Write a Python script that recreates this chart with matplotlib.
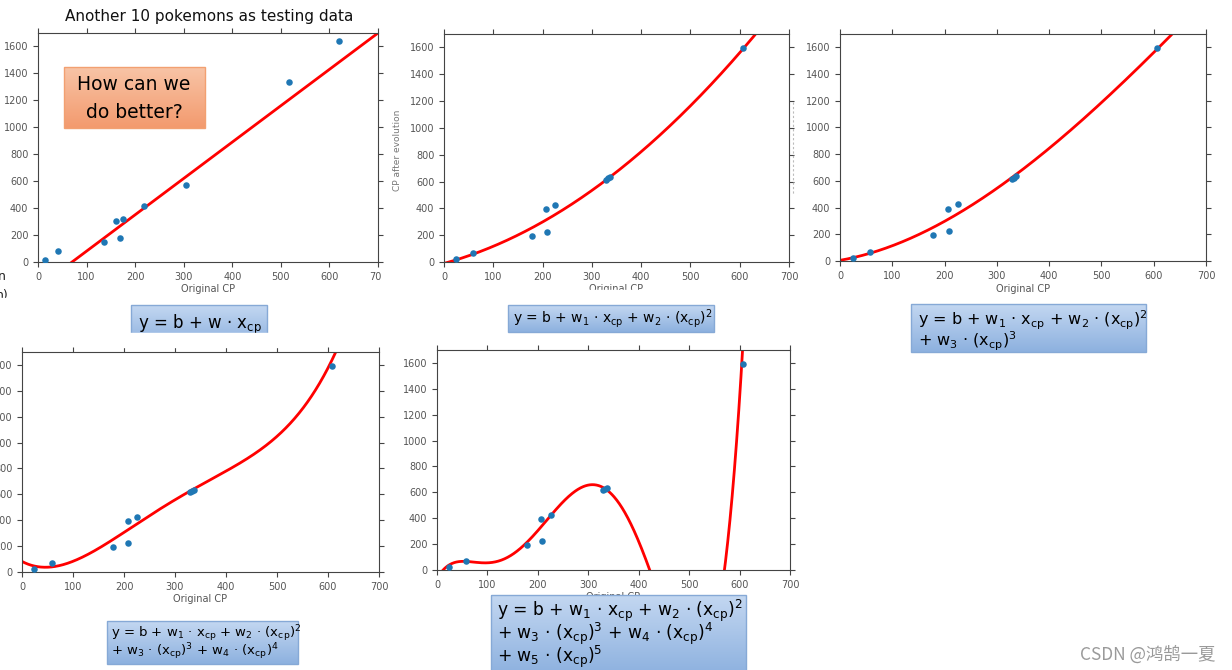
import matplotlib
matplotlib.use("Agg")
import matplotlib.pyplot as plt
import numpy as np
from matplotlib.patches import Rectangle

W, H = 1232, 670

plt.rcParams["font.family"] = ["DejaVu Sans"]
plt.rcParams["mathtext.fontset"] = "custom"
plt.rcParams["mathtext.rm"] = "DejaVu Sans"
plt.rcParams["mathtext.it"] = "DejaVu Sans"

# panel 1: another 10 pokemons (testing data)
TEST_X = [14, 41, 135, 161, 169, 175, 219, 305, 517, 619]
TEST_Y = [17, 80, 147, 301, 179, 321, 416, 568, 1338, 1642]

# panels 2-5 share the same points
CP_X = [24, 58, 178, 207, 208, 226, 329, 333, 337, 607]
CP_Y = [26, 66, 196, 393, 225, 424, 615, 625, 636, 1592]

# red model curves
LIN_X = [70, 300, 500, 700]
LIN_Y = [0, 620, 1160, 1700]
QUAD_X = [0, 100, 200, 300, 400, 500, 600, 630]
QUAD_Y = [-10, 115, 300, 535, 820, 1165, 1560, 1690]
CUB_X = [0, 100, 200, 300, 400, 500, 600, 630]
CUB_Y = [5, 115, 295, 545, 845, 1185, 1560, 1680]
QUART_X = [0, 44, 100, 200, 300, 349, 400, 500, 558, 600, 617]
QUART_Y = [81, 36, 87, 300, 561, 670, 778, 1054, 1285, 1605, 1700]
QUINT_X = [12, 35, 55, 90, 134, 177, 199, 227, 260, 300, 310, 353, 389, 422, 571, 587, 597, 607]
QUINT_Y = [0, 52, 70, 58, 103, 200, 277, 427, 569, 660, 673, 569, 297, 0, 0, 660, 1230, 1709]

X_TICKS = [0, 100, 200, 300, 400, 500, 600, 700]
Y_TICKS = [0, 200, 400, 600, 800, 1000, 1200, 1400, 1600]

F_LINE1 = r"y = b + w$_1$ · x$_{\mathrm{cp}}$ + w$_2$ · (x$_{\mathrm{cp}}$)$^2$"
F_CUB = r"+ w$_3$ · (x$_{\mathrm{cp}}$)$^3$"
F_QUART = r"+ w$_3$ · (x$_{\mathrm{cp}}$)$^3$ + w$_4$ · (x$_{\mathrm{cp}}$)$^4$"
F_QUINT = r"+ w$_5$ · (x$_{\mathrm{cp}}$)$^5$"

GRAY = "#555555"


def px_axes(fig, l, r, t, b):
    return fig.add_axes([l / W, 1 - b / H, (r - l) / W, (b - t) / H])


def panel(ax, xs, ys, cx, cy, deg, xlabel=True):
    ax.scatter(xs, ys, s=22, color="#1f77b4", zorder=3, linewidths=0)
    c = np.polyfit(np.array(cx) / 100.0, cy, deg)
    xx = np.linspace(0, 700, 800)
    ax.plot(xx, np.polyval(c, xx / 100.0), color="red", lw=2, zorder=2)
    ax.set_xlim(0, 700)
    ax.set_ylim(0, 1700)
    ax.set_xticks(X_TICKS)
    ax.set_yticks(Y_TICKS)
    ax.tick_params(direction="out", length=3.5, top=True, right=True,
                   labelsize=7, colors="#444444", labelcolor=GRAY)
    for s in ax.spines.values():
        s.set_color("#444444")
    if xlabel:
        ax.set_xlabel("Original CP", fontsize=7, color=GRAY, labelpad=2)


def grad_box(ov, x0, x1, y0, y1, top, bottom, edge):
    c0 = np.array(matplotlib.colors.to_rgb(top))
    c1 = np.array(matplotlib.colors.to_rgb(bottom))
    t = np.linspace(0, 1, 64)[:, None, None]
    img = c0 * (1 - t) + c1 * t
    ov.imshow(img, extent=(x0, x1, y1, y0), aspect="auto", zorder=5,
              interpolation="bilinear")
    ov.add_patch(Rectangle((x0, y0), x1 - x0, y1 - y0, fill=False,
                           edgecolor=edge, lw=1, zorder=6))


fig = plt.figure(figsize=(W / 100, H / 100), dpi=100)

ax1 = px_axes(fig, 38, 378, 33, 262)
panel(ax1, TEST_X, TEST_Y, LIN_X, LIN_Y, 1)
ax2 = px_axes(fig, 444, 789, 34, 262)
panel(ax2, CP_X, CP_Y, QUAD_X, QUAD_Y, 2)
ax3 = px_axes(fig, 840, 1206, 34, 261)
panel(ax3, CP_X, CP_Y, CUB_X, CUB_Y, 3)
ax4 = px_axes(fig, 22, 379, 352, 572)
panel(ax4, CP_X, CP_Y, QUART_X, QUART_Y, 4)
ax5 = px_axes(fig, 437, 790, 350, 570)
panel(ax5, CP_X, CP_Y, QUINT_X, QUINT_Y, 5)

# overlay in pixel coordinates
ov = fig.add_axes([0, 0, 1, 1], zorder=10)
ov.patch.set_alpha(0)
ov.axis("off")

ov.text(209, 17, "Another 10 pokemons as testing data", fontsize=11,
        ha="center", va="center", color="#111111")
ov.text(397, 150, "CP after evolution", fontsize=6.5, rotation=90,
        ha="center", va="center", color="#777777")
ov.plot([793, 793], [102, 195], color="#bbbbbb", lw=0.8, ls=(0, (2, 2)))
ov.text(-2, 276, "n", fontsize=9, ha="left", va="center", color="#222222")
ov.text(-4, 295, "n)", fontsize=9, ha="left", va="center", color="#222222")

# crop edges of the original slide
ov.add_patch(Rectangle((382, 266), 12, 20, color="white", zorder=4))
ov.add_patch(Rectangle((420, 290), 370, 12, color="white", zorder=4))
ov.add_patch(Rectangle((-5, 298), 30, 8, color="white", zorder=4))

# orange call-out
grad_box(ov, 64, 205, 67, 128, "#f8c4a6", "#f39a6e", "#f2a071")
ov.text(134, 85, "How can we", fontsize=13.5, ha="center", va="center", zorder=7)
ov.text(134, 112, "do better?", fontsize=13.5, ha="center", va="center", zorder=7)

BLUE_TOP, BLUE_BOT, BLUE_EDGE = "#c3d7f1", "#8db1df", "#86a9d6"

grad_box(ov, 131, 267, 305, 345, BLUE_TOP, BLUE_BOT, BLUE_EDGE)
ov.text(138, 325, r"y = b + w · x$_{\mathrm{cp}}$", fontsize=12, va="center", zorder=7)
ov.add_patch(Rectangle((120, 333), 160, 14, color="white", zorder=8))

grad_box(ov, 508, 714, 305, 332, BLUE_TOP, BLUE_BOT, BLUE_EDGE)
ov.text(513, 319, F_LINE1, fontsize=10, va="center", zorder=7)

grad_box(ov, 911, 1146, 304, 352, BLUE_TOP, BLUE_BOT, BLUE_EDGE)
ov.text(918, 320, F_LINE1, fontsize=11.5, va="center", zorder=7)
ov.text(918, 341, F_CUB, fontsize=11.5, va="center", zorder=7)

grad_box(ov, 107, 298, 621, 664, BLUE_TOP, BLUE_BOT, BLUE_EDGE)
ov.text(111, 634, F_LINE1, fontsize=9.5, va="center", zorder=7)
ov.text(111, 652, F_QUART, fontsize=9.5, va="center", zorder=7)

grad_box(ov, 491, 746, 595, 675, BLUE_TOP, BLUE_BOT, BLUE_EDGE)
ov.text(497, 611, F_LINE1, fontsize=12.3, va="center", zorder=7)
ov.text(497, 634, F_QUART, fontsize=12.3, va="center", zorder=7)
ov.text(497, 657, F_QUINT, fontsize=12.3, va="center", zorder=7)

ov.text(1216, 655, "CSDN @鸿鹄一夏", fontsize=12.5, ha="right", va="center",
        color="#9a9a9a", family=["Noto Sans CJK SC", "DejaVu Sans"])

ov.set_xlim(0, W)
ov.set_ylim(H, 0)

fig.savefig("out.png", dpi=100)
